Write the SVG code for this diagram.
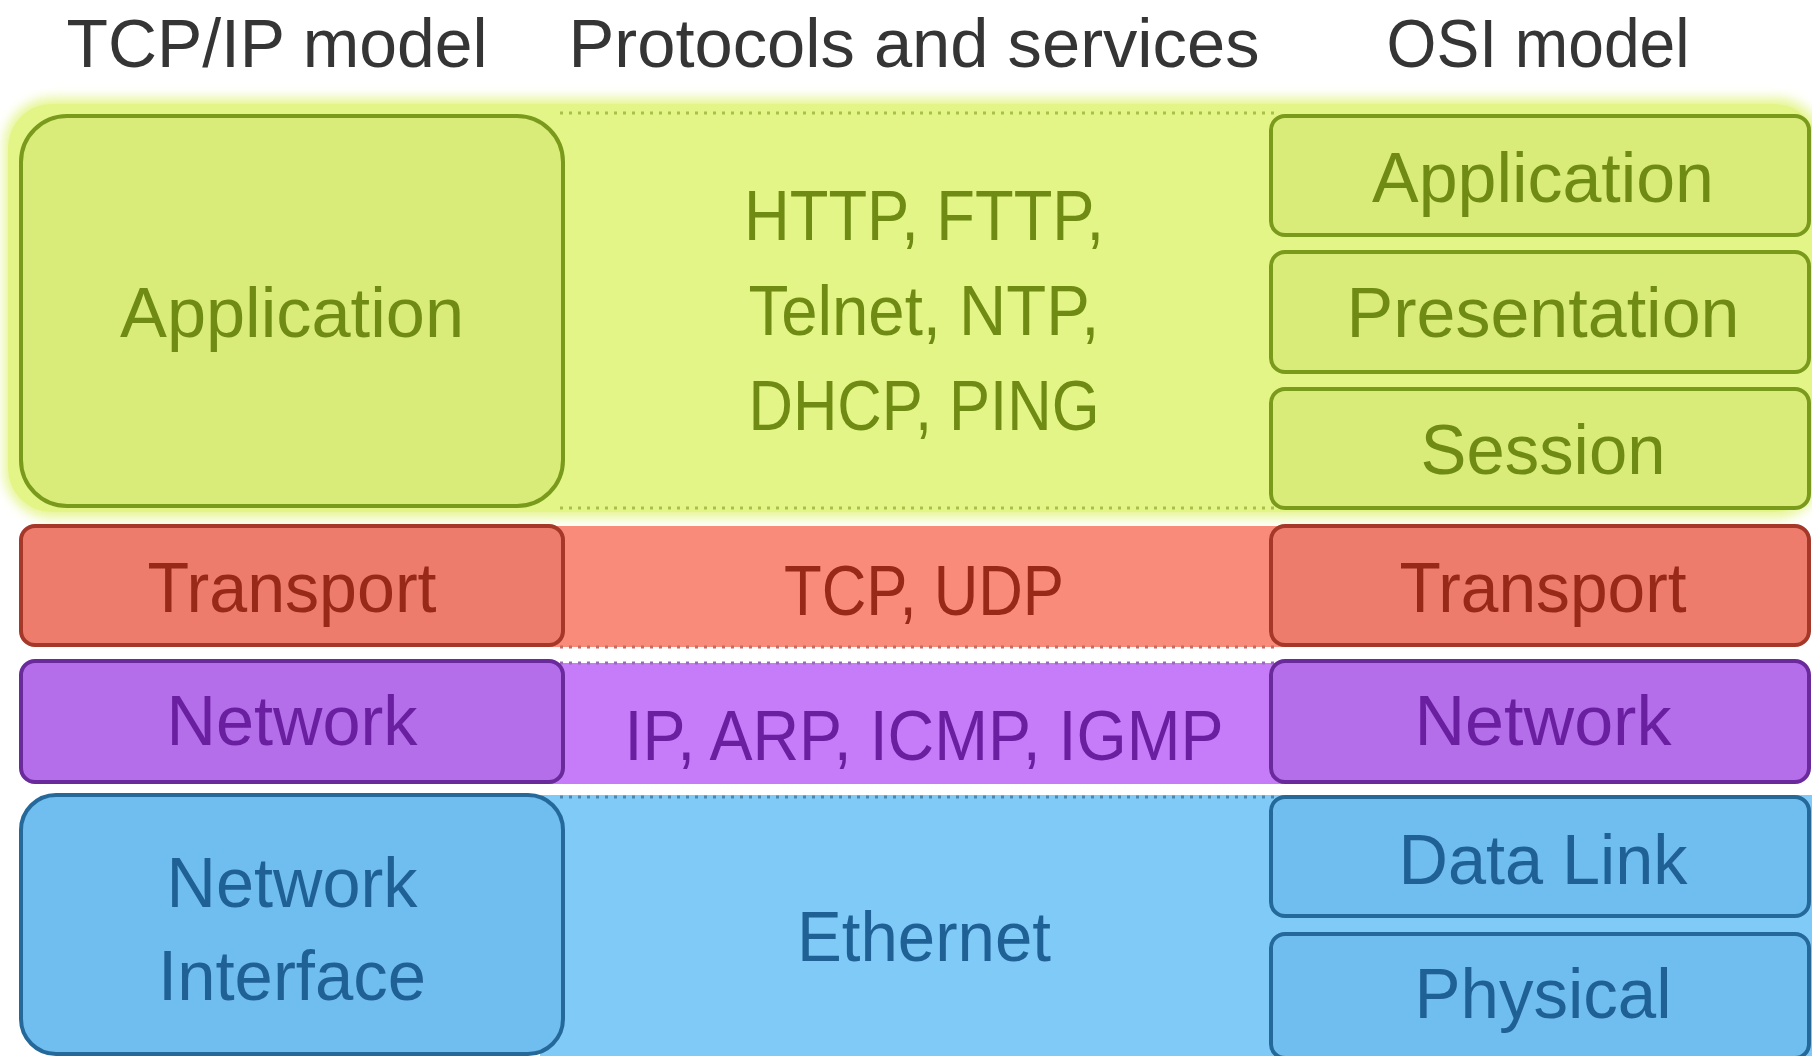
<svg xmlns="http://www.w3.org/2000/svg" width="1812" height="1056" viewBox="0 0 1812 1056">
<defs>
<filter id="glow" x="-5%" y="-10%" width="110%" height="120%"><feGaussianBlur stdDeviation="6"/></filter>
</defs>
<style>
text{font-family:"Liberation Sans",Arial,sans-serif;font-size:70px;text-anchor:middle}
.hd{fill:#353535;font-size:68px}
.g{fill:#d9eb79;stroke:#7a9a1c;stroke-width:4}
.gt{fill:#6f8b14}
.r{fill:#ee7c6c;stroke:#a53828;stroke-width:4}
.rt{fill:#982818}
.p{fill:#b46ee9;stroke:#6a2a9c;stroke-width:4}
.pt{fill:#6a1fa0}
.b{fill:#70bdf0;stroke:#24699a;stroke-width:4}
.bt{fill:#1f6195}
.dot{stroke-width:3;stroke-dasharray:3 6;fill:none}
</style>
<rect width="1812" height="1056" fill="#ffffff"/>
<g id="bands">
<rect x="4" y="98" width="1820" height="420" rx="48" fill="#e6f592" filter="url(#glow)"/>
<rect x="8" y="104" width="1810" height="408" rx="44" fill="#e3f587"/>
<rect x="540" y="526" width="745" height="121" fill="#f98b7b"/>
<rect x="540" y="663" width="745" height="121" fill="#c67cf9"/>
<rect x="540" y="795" width="1272" height="261" fill="#80caf8"/>
</g>
<g id="connectors">
<line class="dot" x1="560" y1="113" x2="1275" y2="113" stroke="#a8c04a"/>
<line class="dot" x1="560" y1="508" x2="1275" y2="508" stroke="#a8c04a"/>
<line class="dot" x1="560" y1="647" x2="1275" y2="647" stroke="#c86a60"/>
<line class="dot" x1="560" y1="663" x2="1275" y2="663" stroke="#9a6ab8"/>
<line class="dot" x1="560" y1="797" x2="1275" y2="797" stroke="#4a88b0"/>
</g>
<g id="headers">
<text class="hd" x="277" y="67" textLength="421" lengthAdjust="spacingAndGlyphs">TCP/IP model</text>
<text class="hd" x="914" y="67" textLength="691" lengthAdjust="spacingAndGlyphs">Protocols and services</text>
<text class="hd" x="1538" y="67" textLength="303" lengthAdjust="spacingAndGlyphs">OSI model</text>
</g>
<g id="tcp-application"><rect class="g" x="21" y="116" width="542" height="390" rx="46"/><text class="gt" x="292" y="337" textLength="344" lengthAdjust="spacingAndGlyphs">Application</text></g>
<g id="tcp-transport"><rect class="r" x="21" y="526" width="542" height="119" rx="14"/><text class="rt" x="292" y="612" textLength="289" lengthAdjust="spacingAndGlyphs">Transport</text></g>
<g id="tcp-network"><rect class="p" x="21" y="661" width="542" height="121" rx="14"/><text class="pt" x="292" y="745" textLength="251" lengthAdjust="spacingAndGlyphs">Network</text></g>
<g id="tcp-netif"><rect class="b" x="21" y="795" width="542" height="259" rx="35"/><text class="bt" x="292" y="907" textLength="251" lengthAdjust="spacingAndGlyphs">Network</text><text class="bt" x="292" y="1000" textLength="268" lengthAdjust="spacingAndGlyphs">Interface</text></g>
<g id="proto-app"><text class="gt" x="924" y="240" textLength="360" lengthAdjust="spacingAndGlyphs">HTTP, FTTP,</text><text class="gt" x="924" y="335" textLength="351" lengthAdjust="spacingAndGlyphs">Telnet, NTP,</text><text class="gt" x="924" y="430" textLength="351" lengthAdjust="spacingAndGlyphs">DHCP, PING</text></g>
<g id="proto-transport"><text class="rt" x="924" y="615" textLength="280" lengthAdjust="spacingAndGlyphs">TCP, UDP</text></g>
<g id="proto-network"><text class="pt" x="924" y="760" textLength="599" lengthAdjust="spacingAndGlyphs">IP, ARP, ICMP, IGMP</text></g>
<g id="proto-link"><text class="bt" x="924" y="961" textLength="254" lengthAdjust="spacingAndGlyphs">Ethernet</text></g>
<g id="osi-application"><rect class="g" x="1271" y="116" width="538" height="119" rx="14"/><text class="gt" x="1543" y="202" textLength="342" lengthAdjust="spacingAndGlyphs">Application</text></g>
<g id="osi-presentation"><rect class="g" x="1271" y="252" width="538" height="120" rx="14"/><text class="gt" x="1543" y="337" textLength="393" lengthAdjust="spacingAndGlyphs">Presentation</text></g>
<g id="osi-session"><rect class="g" x="1271" y="389" width="538" height="119" rx="14"/><text class="gt" x="1543" y="474" textLength="245" lengthAdjust="spacingAndGlyphs">Session</text></g>
<g id="osi-transport"><rect class="r" x="1271" y="526" width="538" height="119" rx="14"/><text class="rt" x="1543" y="612" textLength="287" lengthAdjust="spacingAndGlyphs">Transport</text></g>
<g id="osi-network"><rect class="p" x="1271" y="661" width="538" height="121" rx="14"/><text class="pt" x="1543" y="745" textLength="257" lengthAdjust="spacingAndGlyphs">Network</text></g>
<g id="osi-datalink"><rect class="b" x="1271" y="797" width="538" height="119" rx="14"/><text class="bt" x="1543" y="884" textLength="289" lengthAdjust="spacingAndGlyphs">Data Link</text></g>
<g id="osi-physical"><rect class="b" x="1271" y="934" width="538" height="124" rx="14"/><text class="bt" x="1543" y="1018" textLength="257" lengthAdjust="spacingAndGlyphs">Physical</text></g>
</svg>
